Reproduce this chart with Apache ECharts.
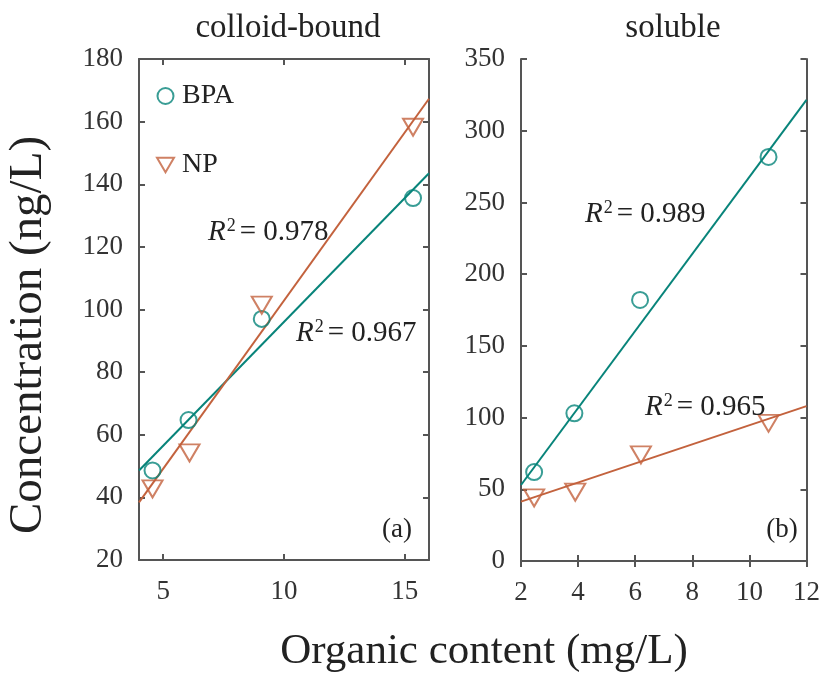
<!DOCTYPE html>
<html>
<head>
<meta charset="utf-8">
<script src="https://cdn.jsdelivr.net/npm/echarts@6/dist/echarts.min.js"></script>
<style>
html, body { margin: 0; padding: 0; background: #fff; }
#chart { width: 823px; height: 673px; }
</style>
</head>
<body>
<div id="chart"></div>
<script>
// colloid-bound panel (a)
var colloidOrgBPA = [4.56, 6.05, 9.08, 15.34];
var colloidBPA = [48.6, 64.7, 97, 135.6];
var colloidOrgNP = [4.56, 6.09, 9.08, 15.34];
var colloidNP = [42.7, 54.2, 101.4, 158.2];
var colloidFitX = [4, 16];
var colloidFitBPA = [48.6, 143.5];
var colloidFitNP = [38.4, 167.3];

// soluble panel (b)
var solubleOrgBPA = [2.46, 3.87, 6.17, 10.67];
var solubleBPA = [62, 103, 182, 281.7];
var solubleOrgNP = [2.46, 3.9, 6.2, 10.67];
var solubleNP = [44, 48, 74, 96];
var solubleFitX = [2, 12];
var solubleFitBPA = [53, 321.5];
var solubleFitNP = [41.4, 108];

var colloidTicks = [5, 10, 15];
var r2Labels = ['0.978', '0.967', '0.989', '0.965'];

var tealC = '#08847a';
var rustC = '#c3623d';
var serif = "'Liberation Serif', 'DejaVu Serif', serif";
var triPath = 'path://M0,0L20,0L10,17Z';

function pairs(xs, ys) {
    return xs.map(function (x, i) { return [x, ys[i]]; });
}

var myChart = echarts.init(document.getElementById('chart'));

var axisLineStyle = { color: '#555', width: 2 };

function xAxisPair(gridIndex, min, max, interval, custom) {
    var bottom = {
        type: 'value', gridIndex: gridIndex, position: 'bottom',
        min: min, max: max, interval: interval,
        splitLine: { show: false },
        axisLine: { lineStyle: axisLineStyle },
        axisTick: { inside: true, length: 6, lineStyle: axisLineStyle },
        axisLabel: { margin: 18, fontFamily: serif, fontSize: 27, color: '#333', showMinLabel: true, showMaxLabel: true }
    };
    var top = {
        type: 'value', gridIndex: gridIndex, position: 'top',
        min: min, max: max, interval: interval,
        splitLine: { show: false },
        axisLine: { lineStyle: axisLineStyle },
        axisTick: { inside: true, length: 6, lineStyle: axisLineStyle },
        axisLabel: { show: false }
    };
    if (custom) {
        bottom.axisTick.customValues = custom;
        bottom.axisLabel.customValues = custom;
        top.axisTick.customValues = custom;
    }
    return [bottom, top];
}

function yAxisPair(gridIndex, min, max, interval) {
    return [{
        type: 'value', gridIndex: gridIndex, position: 'left',
        min: min, max: max, interval: interval,
        splitLine: { show: false },
        axisLine: { lineStyle: axisLineStyle },
        axisTick: { inside: true, length: 6, lineStyle: axisLineStyle },
        axisLabel: { margin: 16, fontFamily: serif, fontSize: 27, color: '#333' }
    }, {
        type: 'value', gridIndex: gridIndex, position: 'right',
        min: min, max: max, interval: interval,
        splitLine: { show: false },
        axisLine: { lineStyle: axisLineStyle },
        axisTick: { inside: true, length: 6, lineStyle: axisLineStyle },
        axisLabel: { show: false }
    }];
}

var xA = xAxisPair(0, 4, 16, 4, colloidTicks);
var xB = xAxisPair(1, 2, 12, 2, null);
var yA = yAxisPair(0, 20, 180, 20);
var yB = yAxisPair(1, 0, 350, 50);

function r2Text(txt, x, y) {
    return {
        type: 'text', x: x, y: y, z: 10,
        style: {
            text: '{r|R}{s|2}{n|= ' + txt + '}',
            align: 'left', verticalAlign: 'middle',
            rich: {
                r: { fontFamily: serif, fontSize: 29, fontStyle: 'italic', fill: '#222', color: '#222', lineHeight: 30 },
                s: { fontFamily: serif, fontSize: 18, fill: '#222', color: '#222', lineHeight: 18, verticalAlign: 'top', padding: [0, 4, 0, 1] },
                n: { fontFamily: serif, fontSize: 29, fill: '#222', color: '#222', lineHeight: 30 }
            }
        }
    };
}

function plainText(txt, x, y, size, rot) {
    return {
        type: 'text', x: x, y: y, rotation: rot || 0,
        style: {
            text: txt, align: 'center', verticalAlign: 'middle',
            font: size + 'px ' + serif, fill: '#222'
        }
    };
}

function markers(name, xi, yi, data, sym, size, color) {
    return {
        name: name, type: 'scatter', xAxisIndex: xi, yAxisIndex: yi,
        data: data, symbol: sym, symbolSize: size, z: 5,
        itemStyle: { color: 'rgba(255,255,255,0)', borderColor: color, borderWidth: 2 }
    };
}

function fitLine(name, xi, yi, data, color) {
    return {
        name: name, type: 'line', xAxisIndex: xi, yAxisIndex: yi,
        data: data, showSymbol: false, symbol: 'none', silent: true, z: 3,
        lineStyle: { color: color, width: 2 }
    };
}

option = {
    animation: false,
    backgroundColor: '#fff',
    grid: [
        { left: 139, top: 59, width: 290, height: 501 },
        { left: 521, top: 59, width: 291, height: 502 }
    ],
    xAxis: [xA[0], xA[1], xB[0], xB[1]],
    yAxis: [yA[0], yA[1], yB[0], yB[1]],
    legend: {
        orient: 'vertical', left: 156, top: 82, padding: 0,
        itemGap: 41, itemWidth: 17, itemHeight: 16,
        data: ['BPA', 'NP'],
        textStyle: { fontFamily: serif, fontSize: 28, color: '#222', lineHeight: 28, padding: [0, 0, 0, 3] }
    },
    graphic: [
        plainText('colloid-bound', 288, 28, 33),
        plainText('soluble', 673, 28, 33),
        plainText('(a)', 397, 530, 27),
        plainText('(b)', 782, 530, 27),
        plainText('Organic content (mg/L)', 484, 652, 43),
        plainText('Concentration (ng/L)', 29, 335, 47, Math.PI / 2),
        r2Text(r2Labels[0], 208, 232),
        r2Text(r2Labels[1], 296, 333),
        r2Text(r2Labels[2], 585, 214),
        r2Text(r2Labels[3], 645, 407)
    ],
    series: [
        fitLine('BPA fit a', 0, 0, pairs(colloidFitX, colloidFitBPA), tealC),
        fitLine('NP fit a', 0, 0, pairs(colloidFitX, colloidFitNP), rustC),
        markers('BPA', 0, 0, pairs(colloidOrgBPA, colloidBPA), 'circle', 16, tealC),
        markers('NP', 0, 0, pairs(colloidOrgNP, colloidNP), triPath, [20, 17], rustC),
        fitLine('BPA fit b', 2, 2, pairs(solubleFitX, solubleFitBPA), tealC),
        fitLine('NP fit b', 2, 2, pairs(solubleFitX, solubleFitNP), rustC),
        markers('BPA', 2, 2, pairs(solubleOrgBPA, solubleBPA), 'circle', 16, tealC),
        markers('NP', 2, 2, pairs(solubleOrgNP, solubleNP), triPath, [20, 17], rustC)
    ]
};
myChart.setOption(option);
</script>
</body>
</html>
